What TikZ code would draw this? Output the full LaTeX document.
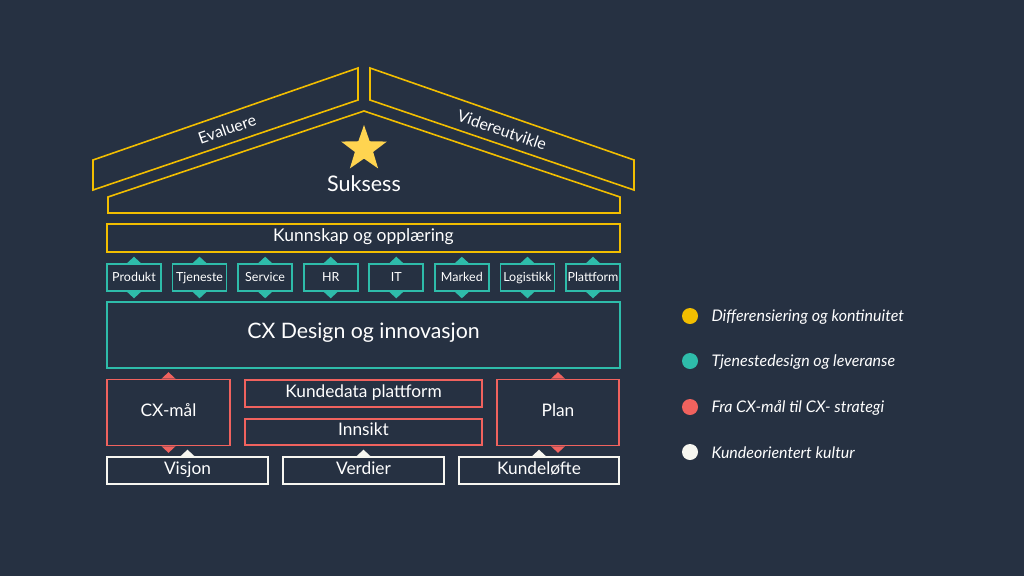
\documentclass[tikz,border=0pt]{standalone}
\usepackage{fontspec}
\setmainfont{Lato}
\usetikzlibrary{shapes.geometric}
\definecolor{navy}{RGB}{38,49,66}
\definecolor{gold}{RGB}{242,190,0}
\definecolor{starfill}{RGB}{255,212,80}
\definecolor{cxteal}{RGB}{46,188,170}
\definecolor{coral}{RGB}{240,98,94}
\definecolor{offwhite}{RGB}{246,246,240}

\tikzset{
    box/.style={draw=#1,line width=1.6pt,fill=navy,text=white,inner sep=0pt,text height=0.72em,text depth=0pt},
    dot/.style={circle,fill=#1,inner sep=0pt,minimum size=16pt},
    legend/.style={anchor=west,text=white,font=\fontsize{16}{18}\selectfont\itshape},
}
% small triangles sitting on a box edge
\newcommand{\tipup}[2]{\fill[#1] (#2) ++(-7,0) -- ++(7,-6.5) -- ++(7,6.5) -- cycle;}
\newcommand{\tipdown}[2]{\fill[#1] (#2) ++(-7,0) -- ++(7,6.5) -- ++(7,-6.5) -- cycle;}

\begin{document}
\begin{tikzpicture}[x=1pt,y=-1pt]
        \useasboundingbox (0,0) rectangle (1024,576);
        \fill[navy] (0,0) rectangle (1024,576);

        % roof
        \draw[gold,line width=1.6pt,line join=miter] (93,160) -- (358,68) -- (358,100) -- (93,190) -- cycle;
        \draw[gold,line width=1.6pt,line join=miter] (370,68) -- (634,160) -- (634,190) -- (370,100) -- cycle;
        \draw[gold,line width=1.6pt,line join=miter] (108,213) -- (108,197) -- (364,111) -- (620,197) -- (620,213) -- cycle;
        \node[text=white,font=\fontsize{16}{18}\selectfont,rotate=19,inner sep=0pt] (evaluere) at (227,129) {Evaluere};
        \node[text=white,font=\fontsize{16}{18}\selectfont,rotate=-19,inner sep=0pt] (videre) at (502,130) {Videreutvikle};
        \node[star,star points=5,star point ratio=2.5,fill=starfill,inner sep=0pt,minimum size=48pt] (gem) at (364,149) {};
        \node[text=white,font=\fontsize{21.5}{24}\selectfont] (suksess) at (364,184) {Suksess};

        \node[box=gold,minimum width=513pt,minimum height=28pt,font=\fontsize{17.5}{19}\selectfont] (kunnskap) at (363.5,238) {Kunnskap og oppl\ae ring};

        % service areas
        \foreach \name [count=\i from 0] in {Produkt,Tjeneste,Service,HR,IT,Marked,Logistikk,Plattform}{
            \pgfmathsetmacro{\cx}{134+65.57*\i}
            \node[box=cxteal,minimum width=54pt,minimum height=27pt,font=\fontsize{12.5}{14}\selectfont] (area\i) at (\cx,277.5) {\name};
            \tipup{cxteal}{area\i.north}
            \tipdown{cxteal}{area\i.south}
        }

        \node[box=cxteal,minimum width=513pt,minimum height=66pt,font=\fontsize{21.3}{24}\selectfont] (design) at (363.5,335) {CX Design og innovasjon};

        % strategy
        \node[box=coral,minimum width=123pt,minimum height=66pt,font=\fontsize{17.3}{19}\selectfont] (maal) at (168.5,412.5) {CX-m\aa l};
        \node[box=coral,minimum width=237pt,minimum height=27pt,font=\fontsize{17.3}{19}\selectfont] (kundedata) at (363.5,393.5) {Kundedata plattform};
        \node[box=coral,minimum width=237pt,minimum height=26pt,font=\fontsize{17.3}{19}\selectfont] (innsikt) at (363.5,432) {Innsikt};
        \node[box=coral,minimum width=122pt,minimum height=66pt,font=\fontsize{17.3}{19}\selectfont] (plan) at (558,412.5) {Plan};
        \tipup{coral}{maal.north}
        \tipdown{coral}{maal.south}
        \tipup{coral}{plan.north}
        \tipdown{coral}{plan.south}

        % culture
        \node[box=offwhite,minimum width=161pt,minimum height=27pt,font=\fontsize{17.3}{19}\selectfont] (visjon) at (187.5,470.5) {Visjon};
        \node[box=offwhite,minimum width=161pt,minimum height=27pt,font=\fontsize{17.3}{19}\selectfont] (verdier) at (363.5,470.5) {Verdier};
        \node[box=offwhite,minimum width=160pt,minimum height=27pt,font=\fontsize{17.3}{19}\selectfont] (kundeloefte) at (539,470.5) {Kundel\o fte};
        \tipup{offwhite}{visjon.north}
        \tipup{offwhite}{verdier.north}
        \tipup{offwhite}{kundeloefte.north}

        % legend
        \node[dot=gold] (dot1) at (690,316) {};
        \node[dot=cxteal] (dot2) at (690,361) {};
        \node[dot=coral] (dot3) at (690,407) {};
        \node[dot=offwhite] (dot4) at (690,452) {};
        \node[legend] (leg1) at (708,317) {Differensiering og kontinuitet};
        \node[legend] (leg2) at (708,362) {Tjenestedesign og leveranse};
        \node[legend] (leg3) at (708,408) {Fra CX-m\aa l til CX- strategi};
        \node[legend] (leg4) at (708,453) {Kundeorientert kultur};
\end{tikzpicture}
\end{document}
